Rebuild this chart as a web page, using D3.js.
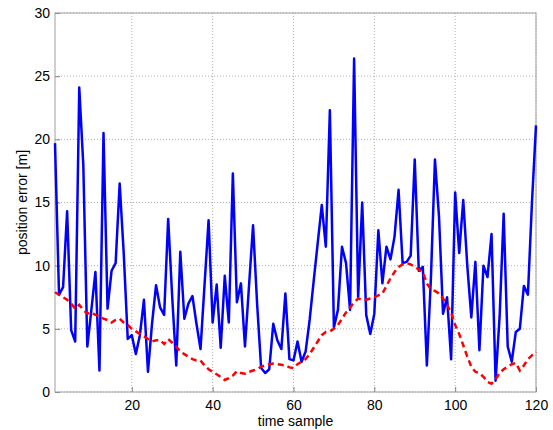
<!DOCTYPE html>
<html>
<head>
<meta charset="utf-8">
<script src="https://cdn.jsdelivr.net/npm/d3@7"></script>
<style>
    body { margin: 0; background: #fff; }
    svg text { font-family: "Liberation Sans", Arial, sans-serif; fill: #000; }
</style>
</head>
<body>
<svg id="chart"></svg>
<script>
// position error per time sample
const measured = [
    19.7, 7.7, 8.3, 14.3, 4.9, 4.0, 24.1, 18, 3.6, 6.5,
    9.5, 1.7, 20.5, 6.6, 9.6, 10.2, 16.5, 11, 4.2, 4.5,
    3.0, 4.5, 7.3, 1.6, 5.4, 8.45, 6.7, 6.1, 13.7, 7.5,
    2.1, 11.1, 5.8, 7.0, 7.6, 5.4, 3.4, 8.5, 13.6, 5.5,
    8.5, 3.5, 9.2, 5.5, 17.3, 7.1, 8.6, 3.6, 8.4, 13.2,
    7, 1.9, 1.5, 1.8, 5.4, 4.1, 3.4, 7.8, 2.6, 2.5,
    4.0, 2.4, 3.2, 5.7, 8.8, 11.8, 14.8, 11.5, 22.3, 5.1,
    6.5, 11.5, 10.2, 6.5, 26.4, 7.5, 15.0, 6.1, 4.6, 6.2,
    12.8, 8.6, 11.5, 10.5, 12.3, 16.0, 10.2, 10.3, 10.8, 18.4,
    9.6, 9.9, 2.1, 9, 18.4, 13.9, 6.2, 7.5, 2.6, 15.8,
    11.0, 15.2, 10, 5.9, 10.3, 3.3, 10.0, 9.1, 12.5, 0.9,
    6, 14.1, 3.6, 2.4, 4.75, 5.0, 8.4, 7.7, 15, 21.1
];

const filtered = [
    7.9, 7.7, 7.5, 7.3, 7.0, 6.6, 6.9, 6.5, 6.2, 6.3,
    6.1, 6.0, 5.8, 5.7, 5.5, 5.7, 5.8, 5.5, 5.3, 5.0,
    4.8, 4.6, 4.4, 4.2, 4.0, 4.1, 4.1, 3.8, 4.2, 3.9,
    3.6, 3.2, 3.0, 2.8, 2.6, 2.5, 2.5, 2.1, 1.8, 1.6,
    1.4, 1.2, 0.95, 1.1, 1.3, 1.65, 1.5, 1.45, 1.6, 1.7,
    1.8, 2.0, 2.1, 2.2, 2.25, 2.2, 2.15, 2.1, 1.95, 1.9,
    2.2, 2.4, 2.6, 3.0, 3.5, 4.0, 4.5, 4.75, 4.8, 5.0,
    5.3, 5.8, 6.3, 6.7, 7.1, 7.4, 7.3, 7.3, 7.4, 7.5,
    7.65, 7.8, 8.4, 9.0, 9.5, 9.9, 10.1, 10.2, 10.1, 9.9,
    9.7, 9.5, 8.6, 8.1, 8.0, 7.8, 7.4, 6.9, 6.3, 5.3,
    4.6, 3.7, 2.8, 2.0, 1.6, 1.5, 1.2, 0.8, 0.66, 1.0,
    1.5, 1.8, 2.0, 2.2, 2.3, 1.7, 2.1, 2.6, 2.9, 3.2
];

const xTicks = [20, 40, 60, 80, 100, 120];
const yTicks = [0, 5, 10, 15, 20, 25, 30];

const W = 553, H = 430;
const margin = {top: 13, right: 17, bottom: 38, left: 55};
const width = W - margin.left - margin.right;
const height = H - margin.top - margin.bottom;

const svg = d3.select('#chart')
    .attr('width', W)
    .attr('height', H);

const g = svg.append('g')
    .attr('transform', `translate(${margin.left},${margin.top})`);

const x = d3.scaleLinear().domain([1, 120]).range([0, width]);
const y = d3.scaleLinear().domain([0, 30]).range([height, 0]);

// dotted grid
g.append('g')
    .selectAll('line.vg')
    .data(xTicks)
    .enter().append('line')
    .attr('x1', d => x(d)).attr('x2', d => x(d))
    .attr('y1', 0).attr('y2', height)
    .attr('stroke', '#b0b0b0')
    .attr('stroke-width', 1)
    .attr('stroke-dasharray', '1,2');

g.append('g')
    .selectAll('line.hg')
    .data(yTicks)
    .enter().append('line')
    .attr('x1', 0).attr('x2', width)
    .attr('y1', d => y(d)).attr('y2', d => y(d))
    .attr('stroke', '#b0b0b0')
    .attr('stroke-width', 1)
    .attr('stroke-dasharray', '1,2');

// axes (MATLAB style, ticks inside)
const xAxis = d3.axisBottom(x).tickValues(xTicks).tickSizeInner(-5).tickSizeOuter(0).tickPadding(8);
const yAxis = d3.axisLeft(y).tickValues(yTicks).tickSizeInner(-5).tickSizeOuter(0).tickPadding(5);

const gx = g.append('g')
    .attr('transform', `translate(0,${height})`)
    .call(xAxis);
const gy = g.append('g').call(yAxis);

[gx, gy].forEach(a => {
    a.select('.domain').remove();
    a.selectAll('.tick line').attr('stroke', '#808080');
    a.selectAll('.tick text')
        .style('font-family', '"Liberation Sans", Arial, sans-serif')
        .style('font-size', '14px')
        .attr('fill', '#000');
});

// box
g.append('rect')
    .attr('x', 0).attr('y', 0)
    .attr('width', width).attr('height', height)
    .attr('fill', 'none')
    .attr('stroke', '#a0a0a0')
    .attr('stroke-width', 1);

const line = d3.line()
    .x((d, i) => x(i + 1))
    .y(d => y(d));

g.append('path')
    .datum(measured)
    .attr('fill', 'none')
    .attr('stroke', '#0000ff')
    .attr('stroke-width', 2.5)
    .attr('stroke-linejoin', 'round')
    .attr('d', line);

g.append('path')
    .datum(filtered)
    .attr('fill', 'none')
    .attr('stroke', '#ff0000')
    .attr('stroke-width', 2.5)
    .attr('stroke-dasharray', '6,4')
    .attr('d', line);

// labels
svg.append('text')
    .attr('x', margin.left + width / 2)
    .attr('y', 426)
    .attr('text-anchor', 'middle')
    .style('font-size', '14px')
    .text('time sample');

svg.append('text')
    .attr('transform', `translate(27,${margin.top + height / 2}) rotate(-90)`)
    .attr('text-anchor', 'middle')
    .style('font-size', '14px')
    .text('position error [m]');
</script>
</body>
</html>
